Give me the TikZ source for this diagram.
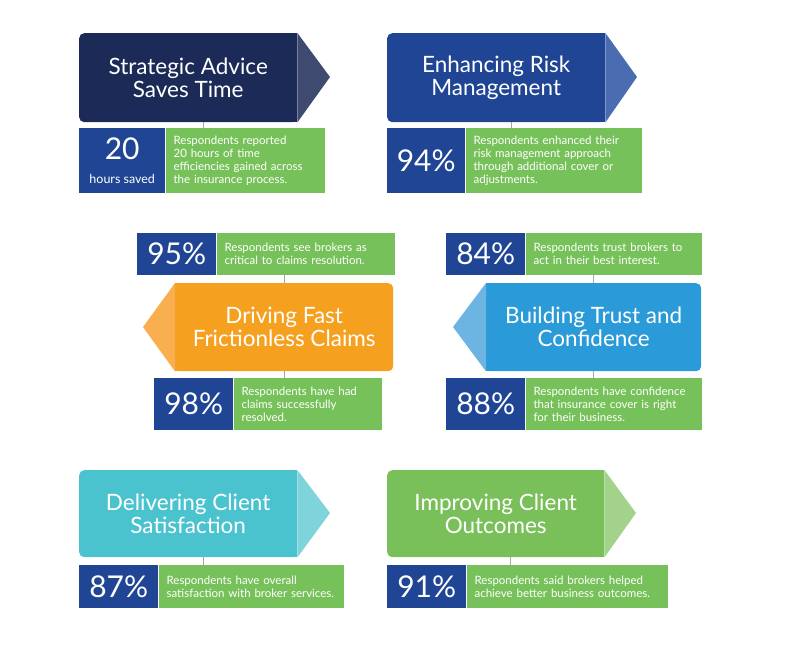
\documentclass[tikz,border=0pt]{standalone}
\usepackage{fontspec}
\setmainfont{Lato}
\usepackage{xcolor}
\usetikzlibrary{positioning,calc}

\definecolor{navy}{HTML}{1B2A57}
\definecolor{navylt}{HTML}{3E4A70}
\definecolor{royal}{HTML}{1F4594}
\definecolor{royallt}{HTML}{4A6CB0}
\definecolor{orng}{HTML}{F6A01F}
\definecolor{ornglt}{HTML}{F9AE4F}
\definecolor{sky}{HTML}{2A9AD8}
\definecolor{skylt}{HTML}{6CB5E3}
\definecolor{teal}{HTML}{4BC3CF}
\definecolor{teallt}{HTML}{7FD3DB}
\definecolor{leaf}{HTML}{7AC05A}
\definecolor{leaflt}{HTML}{A3D38A}
\definecolor{statgreen}{HTML}{77C15A}

\tikzset{
  header/.style={anchor=north west, inner sep=0pt, rounded corners=5pt,
    minimum height=89pt, text=white, align=center,
    font=\fontsize{22.5}{23}\selectfont},
  numbox/.style={anchor=north west, inner sep=0pt, fill=royal, text=white,
    align=center, font=\fontsize{30}{30}\selectfont},
  txtbox/.style={anchor=north west, inner xsep=8pt, inner ysep=0pt, fill=statgreen, text=white,
    align=left, font=\fontsize{11.5}{13}\selectfont},
  link/.style={draw=gray!70, line width=0.8pt}
}

\begin{document}
\begin{tikzpicture}[x=1pt,y=-1pt]
\useasboundingbox (0,0) rectangle (800,652);

% Strategic advice
\node[header, fill=navy, minimum width=218pt] (advice) at (79,33) {Strategic Advice\\Saves Time};
\fill[navy] (advice.north east) rectangle ([xshift=-6pt]advice.south east);
\fill[navylt] (advice.north east) -- (330,77) -- (advice.south east) -- cycle;
\node[numbox, minimum width=86pt, minimum height=65pt] (hours) at (79,128)
  {20\\[-6pt]{\fontsize{12.5}{13}\selectfont hours saved}};
\node[txtbox, minimum height=65pt, text width=143pt, right=0pt of hours] (hourstxt)
  {Respondents reported\\20 hours of time\\efficiencies gained across\\the insurance process.};
\draw[link] ([xshift=15pt]advice.south) -- ([xshift=15pt]advice.south |- hourstxt.north);

% Risk management
\node[header, fill=royal, minimum width=218pt] (risk) at (387,33) {Enhancing Risk\\Management};
\fill[royal] (risk.north east) rectangle ([xshift=-6pt]risk.south east);
\fill[royallt] (risk.north east) -- (637,77) -- (risk.south east) -- cycle;
\node[numbox, minimum width=78pt, minimum height=65pt] (riskpct) at (387,128) {94\%};
\node[txtbox, minimum height=65pt, text width=160pt, right=0pt of riskpct] (risktxt)
  {Respondents enhanced their\\risk management approach\\through additional cover or\\adjustments.};
\draw[link] ([xshift=15pt]risk.south) -- ([xshift=15pt]risk.south |- risktxt.north);

% Claims
\node[numbox, minimum width=79pt, minimum height=42pt] (critpct) at (137,233) {95\%};
\node[txtbox, minimum height=42pt, text width=162pt, right=0pt of critpct] (crittxt)
  {Respondents see brokers as\\critical to claims resolution.};
\node[header, fill=orng, minimum width=218pt, minimum height=88pt] (claims) at (175,283) {Driving Fast\\Frictionless Claims};
\fill[orng] (claims.north west) rectangle ([xshift=6pt]claims.south west);
\fill[ornglt] (claims.north west) -- (143,327) -- (claims.south west) -- cycle;
\node[numbox, minimum width=79pt, minimum height=52pt] (solvedpct) at (154,378) {98\%};
\node[txtbox, minimum height=52pt, text width=132pt, right=0pt of solvedpct] (solvedtxt)
  {Respondents have had\\claims successfully\\resolved.};
\draw[link] (claims.north) -- (claims.north |- crittxt.south);
\draw[link] (claims.south) -- (claims.south |- solvedtxt.north);

% Trust
\node[numbox, minimum width=79pt, minimum height=42pt] (trustpct) at (446,233) {84\%};
\node[txtbox, minimum height=42pt, text width=160pt, right=0pt of trustpct] (trusttxt)
  {Respondents trust brokers to\\act in their best interest.};
\node[header, fill=sky, minimum width=215pt, minimum height=88pt] (trust) at (486,283) {Building Trust and\\Confidence};
\fill[sky] (trust.north west) rectangle ([xshift=6pt]trust.south west);
\fill[skylt] (trust.north west) -- (453,327) -- (trust.south west) -- cycle;
\node[numbox, minimum width=79pt, minimum height=52pt] (coverpct) at (446,378) {88\%};
\node[txtbox, minimum height=52pt, text width=160pt, right=0pt of coverpct] (covertxt)
  {Respondents have confidence\\that insurance cover is right\\for their business.};
\draw[link] (trust.north) -- (trust.north |- trusttxt.south);
\draw[link] (trust.south) -- (trust.south |- covertxt.north);

% Satisfaction
\node[header, fill=teal, minimum width=218pt, minimum height=87pt] (satis) at (79,470) {Delivering Client\\Satisfaction};
\fill[teal] (satis.north east) rectangle ([xshift=-6pt]satis.south east);
\fill[teallt] (satis.north east) -- (330,513) -- (satis.south east) -- cycle;
\node[numbox, minimum width=79pt, minimum height=43pt] (satispct) at (79,565) {87\%};
\node[txtbox, minimum height=43pt, text width=169pt, right=0pt of satispct] (satistxt)
  {Respondents have overall\\satisfaction with broker services.};
\draw[link] ([xshift=15pt]satis.south) -- ([xshift=15pt]satis.south |- satistxt.north);

% Outcomes
\node[header, fill=leaf, minimum width=217pt, minimum height=87pt] (outc) at (387,470) {Improving Client\\Outcomes};
\fill[leaf] (outc.north east) rectangle ([xshift=-6pt]outc.south east);
\fill[leaflt] (outc.north east) -- (636,513) -- (outc.south east) -- cycle;
\node[numbox, minimum width=79pt, minimum height=43pt] (outcpct) at (387,565) {91\%};
\node[txtbox, minimum height=43pt, text width=185pt, right=0pt of outcpct] (outctxt)
  {Respondents said brokers helped\\achieve better business outcomes.};
\draw[link] ([xshift=15pt]outc.south) -- ([xshift=15pt]outc.south |- outctxt.north);

\end{tikzpicture}
\end{document}
